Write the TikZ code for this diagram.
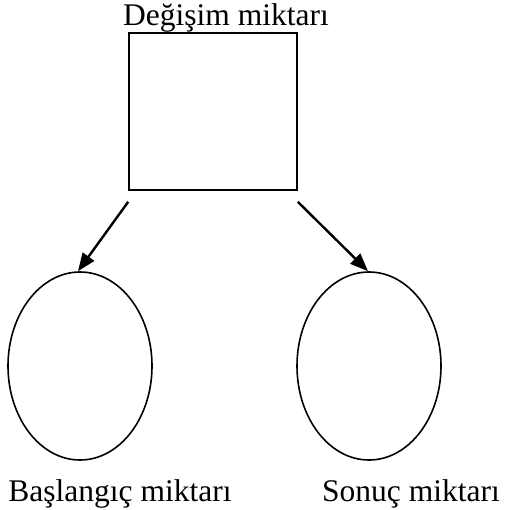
\documentclass[tikz,border=0pt]{standalone}
\usepackage{fontspec}
\setmainfont{Liberation Serif}
\usetikzlibrary{shapes.geometric,arrows.meta}
\begin{document}
\begin{tikzpicture}[x=1pt,y=-1pt,
  lbl/.style={anchor=base,inner sep=0pt,font=\fontsize{31.5}{36}\selectfont},
  boxshape/.style={draw,line width=1.6pt,minimum width=168pt,minimum height=157pt,inner sep=0pt},
  oval/.style={draw,ellipse,line width=1.6pt,minimum width=144pt,minimum height=188pt,inner sep=0pt},
  arr/.style={line width=2.4pt,-{Triangle[length=18pt,width=14pt]}}]
\useasboundingbox (0,0) rectangle (505,510);
\node[boxshape] (box) at (213,111.5) {};
\node[lbl] (top) at (226,26) {Değişim miktarı};
\node[oval] (left) at (80,366) {};
\node[oval] (right) at (369,366) {};
\node[lbl] (ltext) at (120,501) {Başlangıç miktarı};
\node[lbl] (rtext) at (411,501) {Sonuç miktarı};
\draw[arr] ([yshift=-11pt]box.south west) -- ([xshift=-2pt]left.north);
\draw[arr] ([yshift=-11pt]box.south east) -- ([xshift=-1pt]right.north);
\end{tikzpicture}
\end{document}
